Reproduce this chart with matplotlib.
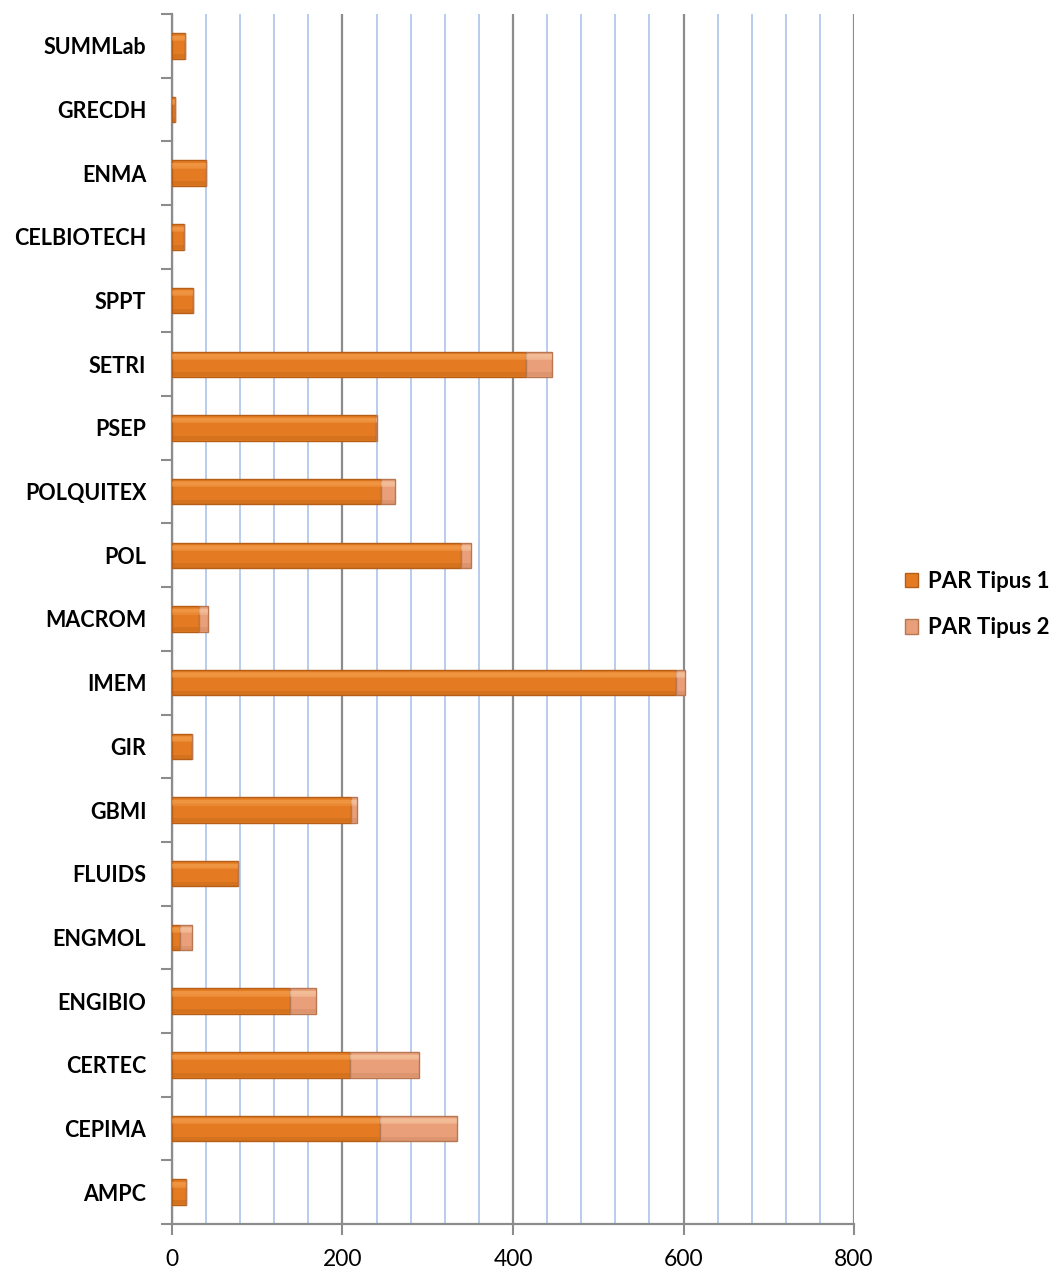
import matplotlib
matplotlib.use("Agg")
import matplotlib.pyplot as plt
from matplotlib.patches import Patch
from matplotlib.ticker import MultipleLocator
import numpy as np

categories = ["AMPC", "CEPIMA", "CERTEC", "ENGIBIO", "ENGMOL", "FLUIDS", "GBMI", "GIR",
              "IMEM", "MACROM", "POL", "POLQUITEX", "PSEP", "SETRI", "SPPT", "CELBIOTECH",
              "ENMA", "GRECDH", "SUMMLab"]
par_tipus1 = [17, 244, 209, 139, 10, 78, 210, 24, 591, 32, 339, 245, 239, 415, 25, 14, 40, 4, 15]
par_tipus2 = [0, 90, 81, 30, 13, 0, 7, 0, 11, 10, 12, 17, 1, 31, 0, 0, 0, 0, 0]
series_names = ["PAR Tipus 1", "PAR Tipus 2"]
xticks = [0, 200, 400, 600, 800]

plt.rcParams['font.family'] = ['Lato', 'DejaVu Sans']

fig = plt.figure(figsize=(10.57, 12.70), dpi=100)
ax = fig.add_axes([0.1627, 0.0362, 0.6453, 0.9528])

y = np.arange(len(categories))
h = 0.4
t1 = np.array(par_tipus1, dtype=float)
t2 = np.array(par_tipus2, dtype=float)

c1, c1_light, c1_dark = "#E47B22", "#F9A85A", "#B55E18"
c2, c2_light, c2_dark = "#E9A07A", "#FBD2AE", "#B77752"

# base bars
ax.barh(y, t1, height=h, color=c1, edgecolor=c1_dark, linewidth=1.0, zorder=3)
ax.barh(y, t2, left=t1, height=h, color=c2, edgecolor=c2_dark, linewidth=1.0, zorder=3)
# soft bevel: lighter upper part, darker lower part
for frac, a in [(0.30, 0.25), (0.36, 0.35), (0.42, 0.45)]:
    ax.barh(y + h * (0.5 - frac / 2) - 0.004, t1, height=h * frac * 0.5, color=c1_light,
            linewidth=0, zorder=4, alpha=a * 0.7)
    ax.barh(y + h * (0.5 - frac / 2) - 0.004, t2, left=t1, height=h * frac * 0.5, color=c2_light,
            linewidth=0, zorder=4, alpha=a * 0.7)
ax.barh(y - h * 0.40, t1, height=h * 0.16, color=c1_dark, linewidth=0, zorder=4, alpha=0.3)
ax.barh(y - h * 0.40, t2, left=t1, height=h * 0.16, color=c2_dark, linewidth=0, zorder=4, alpha=0.25)

ax.set_xlim(0, 800)
ax.set_ylim(-0.5, len(categories) - 0.5)

ax.xaxis.set_major_locator(MultipleLocator(200))
ax.xaxis.set_minor_locator(MultipleLocator(40))
ax.set_xticks(xticks)
ax.set_xticklabels([str(v) for v in xticks], fontsize=16.5)
ax.grid(axis='x', which='minor', color='#B4C8EE', linewidth=1.3, zorder=0)
ax.grid(axis='x', which='major', color='#8C8C8C', linewidth=1.6, zorder=1)
ax.tick_params(axis='x', which='major', length=8, width=1.5, color='#8C8C8C', pad=10)
ax.tick_params(axis='x', which='minor', length=0)

ax.set_yticks(y)
ax.set_yticklabels(categories, fontsize=15.5, fontweight='bold')
ax.tick_params(axis='y', which='major', length=0, pad=18.5)
ax.set_yticks(np.arange(-0.5, len(categories), 1.0), minor=True)
ax.tick_params(axis='y', which='minor', length=8, width=1.5, color='#8C8C8C')

for side in ['top', 'right']:
    ax.spines[side].set_visible(False)
for side in ['left', 'bottom']:
    ax.spines[side].set_color('#8C8C8C')
    ax.spines[side].set_linewidth(1.6)

handles = [Patch(facecolor=c1, edgecolor=c1_dark, label=series_names[0]),
           Patch(facecolor=c2, edgecolor=c2_dark, label=series_names[1])]
fig.legend(handles=handles, loc='center left', bbox_to_anchor=(0.837, 0.524),
           frameon=False, prop={'size': 16, 'weight': 'bold'},
           handlelength=0.6, handleheight=0.6, handletextpad=0.45, labelspacing=1.15)

fig.savefig("out.png", dpi=100)
